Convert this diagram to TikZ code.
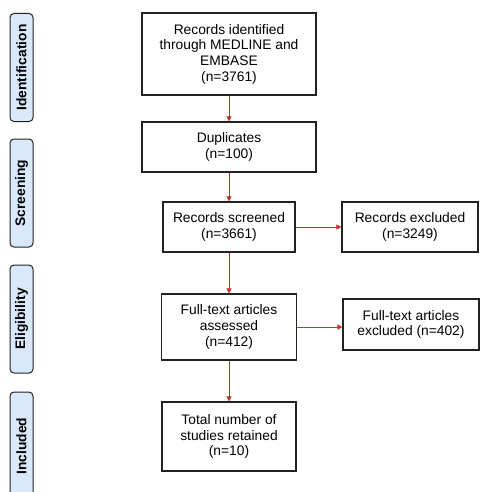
\documentclass[tikz,border=0pt]{standalone}
\usepackage{fontspec}
\setmainfont{Liberation Sans}
\usetikzlibrary{arrows.meta}
\definecolor{arrowred}{HTML}{D42A2A}
\definecolor{stagefill}{HTML}{DAE8FC}
\definecolor{edge}{HTML}{222222}

\begin{document}
\begin{tikzpicture}[x=1pt,y=-1pt,
  box/.style={draw=edge,line width=1.2pt,align=center,inner sep=2pt,font=\fontsize{13.8}{15.7}\selectfont},
  stage/.style={draw=edge,line width=1pt,fill=stagefill,rounded corners=4pt,rotate=90,minimum width=108pt,minimum height=23pt,inner sep=0pt,font=\fontsize{13.8}{15}\selectfont\bfseries},
  flow/.style={arrowred,line width=.8pt,-{Triangle[length=5pt,width=5pt]}}]
\clip (0,0) rectangle (482,492);
\fill[white] (0,0) rectangle (482,492);
% phase labels on the left
\node[stage] (sident) at (21.5,67.5) {Identification};
\node[stage] (sscreen) at (21.5,193) {Screening};
\node[stage] (selig) at (21.5,319) {Eligibility};
\node[stage] (sincl) at (21.5,446) {Included};
% flow boxes
\node[box,minimum width=174pt,minimum height=82pt] (ident) at (229,54) {Records identified\\through MEDLINE and\\EMBASE\\(n=3761)};
\node[box,minimum width=174pt,minimum height=50pt] (dup) at (229,147) {Duplicates\\(n=100)};
\node[box,minimum width=132pt,minimum height=50pt] (screen) at (229,227) {Records screened\\(n=3661)};
\node[box,minimum width=136pt,minimum height=50pt] (excl) at (410,227) {Records excluded\\(n=3249)};
\node[box,minimum width=135pt,minimum height=66pt] (full) at (229,327) {Full-text articles\\assessed\\(n=412)};
\node[box,minimum width=136pt,minimum height=51pt] (fullexcl) at (411,324.5) {Full-text articles\\excluded (n=402)};
\node[box,minimum width=134pt,minimum height=69pt] (total) at (229,436.5) {Total number of\\studies retained\\(n=10)};
% arrows
\draw[flow] (ident.south) -- (dup.north);
\draw[flow] (dup.south) -- (screen.north);
\draw[flow] (screen.east) -- (excl.west);
\draw[flow] (screen.south) -- (full.north);
\draw[flow] (full.east) -- (full.east-|fullexcl.west);
\draw[flow] (full.south) -- (total.north);
\end{tikzpicture}
\end{document}
